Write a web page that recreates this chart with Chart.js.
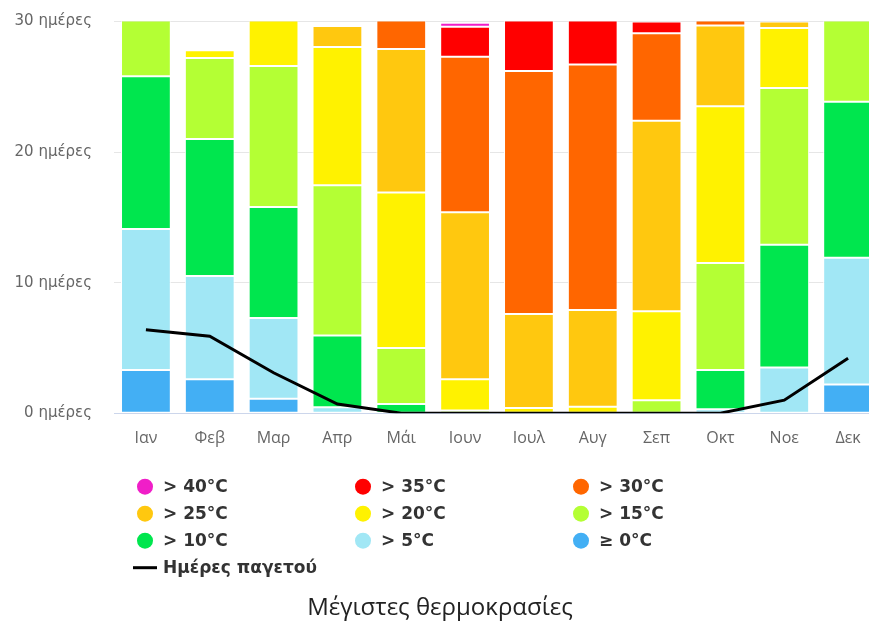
<!DOCTYPE html>
<html>
<head>
<meta charset="utf-8">
<script src="https://cdn.jsdelivr.net/npm/chart.js@4"></script>
<style>
    html, body { margin: 0; padding: 0; background: #fff; overflow: hidden; }
    #wrap { width: 890px; height: 624px; }
</style>
</head>
<body>
<div id="wrap"><canvas id="chart" width="890" height="624"></canvas></div>
<script>
const months = ['Ιαν', 'Φεβ', 'Μαρ', 'Απρ', 'Μάι', 'Ιουν', 'Ιουλ', 'Αυγ', 'Σεπ', 'Οκτ', 'Νοε', 'Δεκ'];

// days per month with max temperature in each band (bottom of stack first)
const daysAbove0 = [3.3, 2.6, 1.1, 0, 0, 0, 0, 0, 0, 0, 0, 2.2];
const daysAbove5 = [10.8, 7.9, 6.2, 0.45, 0, 0, 0, 0, 0, 0.3, 3.5, 9.7];
const daysAbove10 = [11.7, 10.5, 8.5, 5.5, 0.7, 0, 0, 0, 0, 3.0, 9.4, 11.95];
const daysAbove15 = [5.2, 6.2, 10.8, 11.5, 4.3, 0.2, 0, 0, 1.0, 8.2, 12.0, 7.15];
const daysAbove20 = [0, 0.6, 4.4, 10.6, 11.9, 2.4, 0.4, 0.5, 6.8, 12.0, 4.6, 0];
const daysAbove25 = [0, 0, 0, 1.6, 11.0, 12.8, 7.2, 7.4, 14.6, 6.2, 0.5, 0];
const daysAbove30 = [0, 0, 0, 0, 3.1, 11.9, 18.6, 18.8, 6.7, 1.3, 0, 0];
const daysAbove35 = [0, 0, 0, 0, 0, 2.3, 4.8, 4.3, 0.9, 0, 0, 0];
const daysAbove40 = [0, 0, 0, 0, 0, 0.3, 0, 0, 0, 0, 0, 0];
const frostDays = [6.4, 5.9, 3.1, 0.7, 0, 0, 0, 0, 0, 0, 1.0, 4.2];

const yTicks = [0, 10, 20, 30];

const bands = [
    { label: '≥ 0°C', data: daysAbove0, color: '#43aff4' },
    { label: '> 5°C', data: daysAbove5, color: '#a1e7f5' },
    { label: '> 10°C', data: daysAbove10, color: '#00e64e' },
    { label: '> 15°C', data: daysAbove15, color: '#b4ff34' },
    { label: '> 20°C', data: daysAbove20, color: '#fff200' },
    { label: '> 25°C', data: daysAbove25, color: '#ffc80f' },
    { label: '> 30°C', data: daysAbove30, color: '#ff6600' },
    { label: '> 35°C', data: daysAbove35, color: '#ff0000' },
    { label: '> 40°C', data: daysAbove40, color: '#f01ec8' },
];

const datasets = bands.map((b) => ({
    type: 'bar',
    label: b.label,
    data: b.data,
    backgroundColor: b.color,
    borderColor: '#ffffff',
    borderWidth: 1,
    borderSkipped: false,
    stack: 'temp',
    order: 1,
    barPercentage: 0.78,
    categoryPercentage: 1,
}));

datasets.push({
    type: 'line',
    label: 'Ημέρες παγετού',
    data: frostDays,
    borderColor: '#000000',
    backgroundColor: '#000000',
    borderWidth: 3,
    pointRadius: 0,
    tension: 0,
    stack: 'frost',
    order: 0,
});

// legend drawn as a 3 column grid, in the same order as the original
const gridLegend = {
    id: 'gridLegend',
    afterDraw(chart) {
        const ctx = chart.ctx;
        const area = chart.chartArea;
        const items = chart.data.datasets.slice(0, bands.length).reverse();
        const x0 = area.left + 31;
        const colStep = 218;
        const y0 = area.bottom + 73.5;
        const rowStep = 27;

        ctx.save();
        ctx.font = 'bold 17px "DejaVu Sans"';
        ctx.textBaseline = 'middle';
        ctx.textAlign = 'left';

        items.forEach((ds, i) => {
            const cx = x0 + (i % 3) * colStep;
            const cy = y0 + Math.floor(i / 3) * rowStep;
            ctx.beginPath();
            ctx.arc(cx, cy, 8, 0, Math.PI * 2);
            ctx.fillStyle = ds.backgroundColor;
            ctx.fill();
            ctx.fillStyle = '#333333';
            ctx.fillText(ds.label, cx + 18, cy + 1);
        });

        const line = chart.data.datasets[bands.length];
        const ly = y0 + 3 * rowStep;
        ctx.beginPath();
        ctx.moveTo(x0 - 12, ly);
        ctx.lineTo(x0 + 12, ly);
        ctx.strokeStyle = line.borderColor;
        ctx.lineWidth = 3;
        ctx.stroke();
        ctx.fillStyle = '#333333';
        ctx.fillText(line.label, x0 + 18, ly + 1);
        ctx.restore();
    },
};

new Chart(document.getElementById('chart').getContext('2d'), {
    data: {
        labels: months,
        datasets: datasets,
    },
    options: {
        responsive: false,
        animation: false,
        devicePixelRatio: 1,
        layout: {
            padding: { top: 21.5, right: 10, bottom: 0, left: 0 },
        },
        plugins: {
            legend: { display: false },
            tooltip: { enabled: false },
            title: {
                display: true,
                position: 'bottom',
                text: 'Μέγιστες θερμοκρασίες',
                color: '#222222',
                font: { family: '"Open Sans"', size: 24, weight: 'normal' },
                padding: { top: 141, bottom: 1 },
            },
        },
        scales: {
            x: {
                stacked: true,
                afterFit: (scale) => {
                    scale.height = 40;
                    scale.paddingLeft = 0;
                    scale.paddingRight = 0;
                },
                ticks: {
                    color: '#666666',
                    font: { family: '"Open Sans"', size: 16 },
                    padding: 8,
                    maxRotation: 0,
                },
                grid: { display: false },
                border: { color: '#ccd6eb', width: 1 },
            },
            y: {
                stacked: true,
                min: 0,
                max: 30,
                afterFit: (scale) => {
                    scale.width = 114;
                    scale.paddingTop = 0;
                    scale.paddingBottom = 0;
                },
                afterBuildTicks: (scale) => {
                    scale.ticks = yTicks.map((v) => ({ value: v }));
                },
                ticks: {
                    color: '#666666',
                    font: { family: '"DejaVu Sans"', size: 15 },
                    padding: 22,
                    callback: (v) => v + ' ημέρες',
                },
                grid: {
                    color: '#e6e6e6',
                    lineWidth: 1,
                    drawTicks: false,
                },
                border: { display: false },
            },
        },
    },
    plugins: [gridLegend],
});
</script>
</body>
</html>
